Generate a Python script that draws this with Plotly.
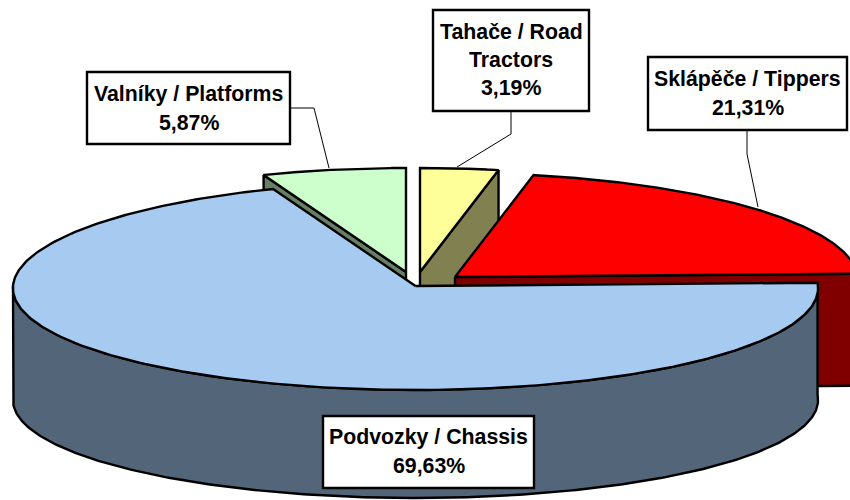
import numpy as np
import plotly.graph_objects as go

# Data, clockwise from 12 o'clock
names = ["Tahače / Road Tractors", "Sklápěče / Tippers", "Podvozky / Chassis", "Valníky / Platforms"]
values = [3.19, 21.31, 69.63, 5.87]
value_labels = ["3,19%", "21,31%", "69,63%", "5,87%"]
top_colors = ["#FFFF99", "#FF0000", "#A6CAF0", "#CCFFCC"]
wall_colors = ["#808050", "#800000", "#536578", "#668066"]

# Exploded slice apex positions on the 850x500 canvas
apex_x = [420, 455, 415.5, 406]
apex_y = [272, 277, 286, 272]
RX, RY = 402.5, 104
PERSPECTIVE = 0.02
DEPTH, RY_BOTTOM = 112, 100

# Labels: text lines with their centre positions, box, and leader line
label_lines = [["Tahače / Road", "Tractors", "3,19%"], ["Sklápěče / Tippers", "21,31%"],
               ["Podvozky / Chassis", "69,63%"], ["Valníky / Platforms", "5,87%"]]
label_line_y = [[32, 60, 88], [79, 108], [437, 466], [94, 123]]
label_box = [(433, 10, 589, 111), (648, 57, 847, 130), (323, 416, 534, 488), (87, 72, 290, 144)]
leader_x = [[511, 511, 457], [747, 747, 758], [], [290, 314, 329]]
leader_y = [[111, 134, 167], [130, 154, 207], [], [108, 108, 168]]

edges = np.concatenate([[0], np.cumsum(values)]) / sum(values) * 360


def rim(i, t_deg, depth=0, ry=RY):
    t = np.radians(t_deg)
    return apex_x[i] + RX * (1 - PERSPECTIVE * np.cos(t)) * np.sin(t), apex_y[i] + depth - ry * np.cos(t)


fig = go.Figure()


def poly(xs, ys, color):
    fig.add_trace(go.Scatter(x=xs, y=ys, mode="lines", fill="toself", fillcolor=color,
                             line=dict(color="black", width=2.4), hoverinfo="skip", showlegend=False))


def cut_face(i, t_deg):
    x, y = rim(i, t_deg)
    poly([apex_x[i], x, x, apex_x[i], apex_x[i]],
         [apex_y[i], y, y + DEPTH, apex_y[i] + DEPTH, apex_y[i]], wall_colors[i])


def top_face(i):
    ts = np.linspace(edges[i], edges[i + 1], 300)
    x, y = rim(i, ts)
    poly(np.r_[apex_x[i], x, apex_x[i]], np.r_[apex_y[i], y, apex_y[i]], top_colors[i])


# Back-to-front painting
cut_face(0, edges[1])
top_face(0)
cut_face(3, edges[3])
top_face(3)
cut_face(1, edges[2])
top_face(1)

# Chassis outer wall and top
ts = np.linspace(edges[2], 270, 300)
xt, yt = rim(2, ts)
xb, yb = rim(2, ts[::-1], DEPTH, RY_BOTTOM)
poly(np.r_[xt, xb, xt[0]], np.r_[yt, yb, yt[0]], wall_colors[2])
top_face(2)

# Leader lines
for lx, ly in zip(leader_x, leader_y):
    if lx:
        fig.add_trace(go.Scatter(x=lx, y=ly, mode="lines", line=dict(color="black", width=1),
                                 hoverinfo="skip", showlegend=False))

shapes = [dict(type="rect", xref="x", yref="y", x0=b[0], y0=b[1], x1=b[2], y1=b[3],
               fillcolor="white", line=dict(color="black", width=2.4), layer="above")
          for b in label_box]
annotations = []
for lines, ys, b in zip(label_lines, label_line_y, label_box):
    for text, y in zip(lines, ys):
        annotations.append(dict(x=(b[0] + b[2]) / 2, y=y, xref="x", yref="y", text=f"<b>{text}</b>",
                                showarrow=False, xanchor="center", yanchor="middle",
                                font=dict(family="Liberation Sans, Arial, sans-serif", size=21.3, color="black")))

fig.update_layout(width=850, height=500, margin=dict(l=0, r=0, t=0, b=0),
                  paper_bgcolor="white", plot_bgcolor="white", showlegend=False,
                  xaxis=dict(range=[0, 850], visible=False, fixedrange=True),
                  yaxis=dict(range=[500, 0], visible=False, fixedrange=True),
                  shapes=shapes, annotations=annotations)
fig.write_html("out.html", config={"displayModeBar": False},
               post_script="document.body.style.margin='0';")
